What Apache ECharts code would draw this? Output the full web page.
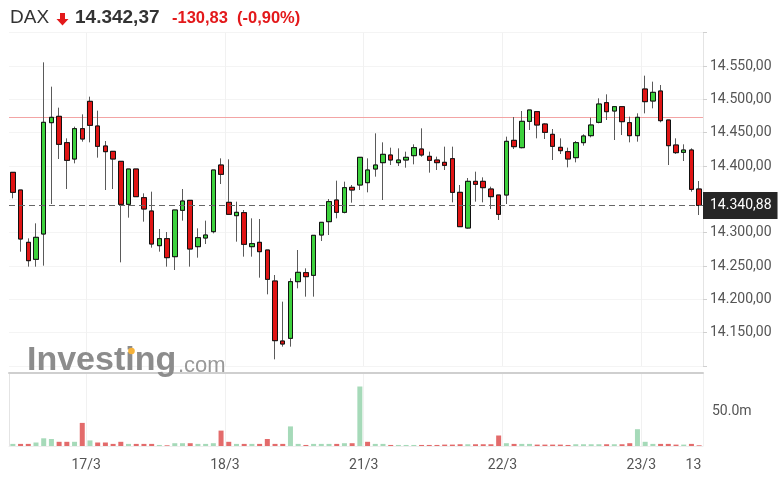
<!DOCTYPE html>
<html>
<head>
<meta charset="utf-8">
<script src="https://cdn.jsdelivr.net/npm/echarts@6/dist/echarts.min.js"></script>
<style>
html,body{margin:0;padding:0;background:#fff;}
#chart{width:784px;height:486px;}
</style>
</head>
<body>
<div id="chart"></div>
<script>
// ---- data (DAX, 30-minute candles, 16/3 13:00 -> 23/3 12:30) ----
const sessionDays = ['16/3', '17/3', '18/3', '21/3', '22/3', '23/3'];
const slotTimes = ['09:00','09:30','10:00','10:30','11:00','11:30','12:00','12:30','13:00','13:30',
                   '14:00','14:30','15:00','15:30','16:00','16:30','17:00','17:30'];
const sessionSlots = [[8, 18], [0, 18], [0, 18], [0, 18], [0, 18], [0, 8]];
const categories = [];
sessionDays.forEach((d, k) => {
  for (let s = sessionSlots[k][0]; s < sessionSlots[k][1]; s++) categories.push(d + ' ' + slotTimes[s]);
});

const opens = [14390.5,14364,14285.5,14260,14298,14465,14474.5,14435,14410.5,14456,
14497,14460,14430,14422,14407,14342.5,14395.5,14352.5,14332.5,14280.5,
14291,14264,14333.5,14348.5,14279,14292,14301.5,14401.5,14345.5,14325.5,
14330,14279,14285.5,14274,14227.5,14137.5,14141.5,14226.5,14240,14236,
14296.5,14316.5,14349,14330.5,14368,14371.5,14375,14395.5,14405,14416.5,
14405,14409,14415.5,14425.5,14414.5,14409,14405.5,14411,14360.5,14307,
14377,14377,14365.5,14356.5,14356.5,14438.5,14427.5,14467,14481.5,14463,
14447.5,14428,14421.5,14412.5,14435,14445.5,14465.5,14495,14482.5,14489,
14465,14445.5,14515.5,14497.5,14512.5,14469,14431.5,14420.5,14424,14365.5];
const highs = [14390.5,14364,14291.5,14314,14555.5,14519,14487.5,14441.5,14459,14477.5,
14504,14483,14437.5,14422,14407,14395.5,14395.5,14359,14361.5,14305.5,
14301,14334,14365.5,14348.5,14306.5,14318,14394,14411.5,14410,14346.5,
14334,14321.5,14320.5,14274,14236.5,14196.5,14231.5,14274,14246.5,14296,
14315.5,14350.5,14378,14376.5,14371.5,14413,14411.5,14449,14435.5,14427.5,
14426.5,14421.5,14432.5,14456.5,14421.5,14414,14429,14429,14371.5,14382,
14391.5,14383,14369,14356.5,14444,14473.5,14482.5,14484,14481.5,14464,
14455.5,14441.5,14427.5,14437.5,14447.5,14472.5,14501.5,14507.5,14489,14489,
14474,14479,14535.5,14526.5,14521.5,14469,14441.5,14432.5,14426.5,14377.5];
const lows = [14351.5,14271.5,14249,14249,14250.5,14343,14410.5,14365.5,14404,14436.5,
14435.5,14412.5,14364,14365.5,14255.5,14322.5,14354,14316.5,14277.5,14271.5,
14249,14244,14318,14249,14262.5,14283,14299,14373,14327.5,14286.5,
14264,14264,14232.5,14207.5,14110,14129,14129,14216.5,14204,14204,
14287.5,14296.5,14321.5,14329,14345,14364,14360.5,14384,14349,14401.5,
14400,14397.5,14402.5,14414,14390,14394,14394,14345.5,14309,14306,
14346.5,14345.5,14335.5,14319,14343,14425.5,14426.5,14454,14441.5,14440.5,
14409,14418,14398,14405.5,14430.5,14443,14464,14469,14439,14446.5,
14435.5,14436.5,14479,14486.5,14465.5,14401.5,14418,14407.5,14361.5,14326.5];
const closes = [14360.5,14290.5,14258,14293,14465.5,14473,14432.5,14408.5,14456,14440.5,
14461,14429.5,14421.5,14410.5,14342.5,14395.5,14354,14335.5,14283,14291,
14262.5,14334,14347.5,14275.5,14292.5,14296.5,14394,14387.5,14327.5,14330.5,
14282.5,14283.5,14271.5,14230,14138,14133,14226.5,14240.5,14234,14296,
14315.5,14346.5,14330.5,14367.5,14364,14413,14394,14401.5,14417.5,14409,
14409,14413,14427.5,14416.5,14408.5,14405,14401,14360.5,14309,14377,
14372.5,14367.5,14354,14327.5,14437,14429,14467,14484,14461.5,14450.5,
14429.5,14423,14410.5,14435,14445,14461.5,14493,14481.5,14489,14466.5,
14445.5,14473,14496.5,14510.5,14468,14430.5,14420,14424,14365,14340.88];
// volume in millions
const volumes = [3,3,3,5,11,10,6,6,6,33,
8,5,5,3,6,3,3,3,3,1.5,
1,4,4,4,3,3,4,22,6,3,
3,3,3,10,3,3,28,3,1.5,3,
3,3,3,4,4,85,6,3,3,1.5,
1.5,1.5,1.5,1.5,1.5,1.5,2,2,2.5,2.5,
2.5,2.5,2.5,15,4,3,3,3,2,2,
2,2,1.5,2.5,2.5,2.5,2.5,2.5,2.5,2.5,
4,24,6,3,3,3,2,2,3,1];

const priceTicks = [14150,14200,14250,14300,14350,14400,14450,14500,14550];
const volumeTicks = [50];
const dayLabels = ['17/3', '18/3', '21/3', '22/3', '23/3', '13:00'];
const daySlots = [10, 28, 46, 64, 82, 90];

const symbolName = 'DAX';
const lastPrice = 14342.37;
const change = -130.83;
const changePct = -0.90;
const prevClose = lastPrice - change;
const lastCandleClose = closes[closes.length - 1];

// ---- helpers ----
function de(v, d) {
  const s = Math.abs(v).toFixed(d);
  const parts = s.split('.');
  const intPart = parts[0].replace(/\B(?=(\d{3})+(?!\d))/g, '.');
  return (v < 0 ? '-' : '') + intPart + (parts[1] ? ',' + parts[1] : '');
}

const UP = '#3dd13d', DOWN = '#e01414';
const VUP = '#a6dab9', VDOWN = '#e36b6b';
const PINK = '#f3a4a4';
const AXFONT = 'Roboto, "Liberation Sans", Arial, sans-serif';
const HFONT = '"Liberation Sans", Arial, sans-serif';

const ohlc = opens.map((o, i) => [o, closes[i], lows[i], highs[i]]);
const bodies = opens.map((o, i) => [o, closes[i], Math.min(o, closes[i]), Math.max(o, closes[i])]);
const volData = volumes.map((v, i) => ({
  value: v,
  itemStyle: { color: (i === 0 || closes[i] >= closes[i - 1]) ? VUP : VDOWN }
}));

const chart = echarts.init(document.getElementById('chart'), null, { renderer: 'canvas' });

const splitFn = (idx) => daySlots.indexOf(idx) >= 0;

const GRID_LEFT = 9, GRID_RIGHT = 81;

const baseGraphic = [
  { id: 'sym', type: 'text', left: 10, top: 8, style: { text: symbolName, font: 'normal 19px ' + HFONT, fill: '#333' } },
  { id: 'arrow', type: 'polygon', shape: { points: [[60, 13], [65, 13], [65, 19], [68.5, 19], [62.5, 25.5], [56.5, 19], [60, 19]] }, style: { fill: '#e3191b' } },
  { id: 'price', type: 'text', left: 75, top: 8, style: { text: de(lastPrice, 2), font: 'bold 19px ' + HFONT, fill: '#333' } },
  { id: 'chg', type: 'text', left: 172, top: 10, style: { text: de(change, 2), font: 'bold 16.5px ' + HFONT, fill: '#e3191b' } },
  { id: 'pct', type: 'text', left: 237, top: 10, style: { text: '(' + de(changePct, 2) + '%)', font: 'bold 16.5px ' + HFONT, fill: '#e3191b' } },
  { id: 'wm1', type: 'text', x: 27, y: 361, z: 1, style: { text: 'Investing', font: 'bold 34px ' + HFONT, fill: '#8c8c8c', verticalAlign: 'middle' } },
  { id: 'wmdot', type: 'circle', z: 2, shape: { cx: 131.5, cy: 351, r: 3.3 }, style: { fill: '#f6b23a' } },
  { id: 'wm2', type: 'text', x: 178, y: 366, z: 1, style: { text: '.com', font: 'normal 22px ' + HFONT, fill: '#999', verticalAlign: 'middle' } },
  { id: 'mask', type: 'rect', z: 10, shape: { x: 702, y: 450, width: 82, height: 36 }, style: { fill: '#fff' } }
];

const option = {
  animation: false,
  backgroundColor: '#fff',
  grid: [
    { left: GRID_LEFT, right: GRID_RIGHT, top: 32.67, height: 333.33 },
    { left: GRID_LEFT, right: GRID_RIGHT, top: 373, height: 73 }
  ],
  xAxis: [
    {
      type: 'category', gridIndex: 0, data: categories, boundaryGap: true,
      offset: 7,
      axisLine: { show: true, onZero: false, lineStyle: { color: '#cfcfcf', width: 2 } },
      axisTick: { show: false }, axisLabel: { show: false },
      splitLine: { show: true, interval: splitFn, lineStyle: { color: '#f1f1f1', width: 1 } }
    },
    {
      type: 'category', gridIndex: 1, data: categories, boundaryGap: true,
      axisLine: { show: true, onZero: false, lineStyle: { color: '#eeeeee', width: 1 } },
      axisTick: { show: false }, axisLabel: { show: false },
      splitLine: { show: true, interval: splitFn, lineStyle: { color: '#f1f1f1', width: 1 } }
    },
    {
      type: 'value', gridIndex: 1, min: 0, max: categories.length, position: 'bottom',
      axisLine: { show: false }, axisTick: { show: false }, splitLine: { show: false },
      axisLabel: {
        show: true, customValues: daySlots, margin: 12,
        color: '#555', fontSize: 14, fontFamily: AXFONT,
        formatter: (v) => { const k = daySlots.indexOf(Math.round(v)); return k >= 0 ? dayLabels[k] : ''; }
      }
    }
  ],
  yAxis: [
    {
      type: 'value', gridIndex: 0, position: 'right', min: 14100, max: 14600, interval: 50,
      axisLine: { show: true, lineStyle: { color: '#e4e4e4' } },
      axisTick: { show: true, length: 4, lineStyle: { color: '#d0d0d0' } },
      axisLabel: {
        margin: 7, color: '#555', fontSize: 14, fontFamily: AXFONT,
        formatter: (v) => priceTicks.indexOf(v) >= 0 ? de(v, 2) : ''
      },
      splitLine: { show: true, lineStyle: { color: '#f4f4f4' } }
    },
    {
      type: 'value', gridIndex: 1, position: 'right', min: 0, max: 104.29, interval: 50,
      axisLine: { show: true, lineStyle: { color: '#e4e4e4' } },
      axisTick: { show: false },
      axisLabel: {
        margin: 9, color: '#555', fontSize: 14, fontFamily: AXFONT,
        formatter: (v) => volumeTicks.indexOf(v) >= 0 ? v.toFixed(1) + 'm' : ''
      },
      splitLine: { show: false }
    }
  ],
  series: [
    {
      name: 'wicks', type: 'candlestick', xAxisIndex: 0, yAxisIndex: 0,
      data: ohlc, barWidth: 5,
      itemStyle: { color: UP, color0: DOWN, borderColor: '#5a5a5a', borderColor0: '#5a5a5a', borderWidth: 1 }
    },
    {
      name: 'bodies', type: 'candlestick', xAxisIndex: 0, yAxisIndex: 0,
      data: bodies, barWidth: 5,
      itemStyle: { color: UP, color0: DOWN, borderColor: '#111', borderColor0: '#111', borderWidth: 1 }
    },
    {
      name: 'last', type: 'line', xAxisIndex: 0, yAxisIndex: 0, data: [], z: 5,
      markLine: {
        silent: true, symbol: ['none', 'none'], animation: false,
        lineStyle: { color: '#666', type: [6, 4], width: 1, opacity: 1 },
        label: {
          show: true, position: 'end', distance: 0,
          formatter: () => de(lastCandleClose, 2),
          backgroundColor: '#262626', color: '#fff',
          fontSize: 14, fontFamily: AXFONT, padding: [7, 6, 6, 7]
        },
        data: [{ yAxis: lastCandleClose }]
      }
    },
    {
      name: 'volume', type: 'bar', xAxisIndex: 1, yAxisIndex: 1,
      data: volData, barWidth: 5
    }
  ],
  graphic: baseGraphic
};
chart.setOption(option);

// previous-close reference line, positioned through the price axis scale
const yPrev = Math.round(chart.convertToPixel({ yAxisIndex: 0 }, prevClose)) + 0.5;
const W = chart.getWidth();
chart.setOption({
  graphic: baseGraphic.concat([{
    id: 'prevCloseLine', type: 'line', z: 1, silent: true,
    shape: { x1: GRID_LEFT, y1: yPrev, x2: W - GRID_RIGHT, y2: yPrev },
    style: { stroke: PINK, lineWidth: 1 }
  }])
});
</script>
</body>
</html>
